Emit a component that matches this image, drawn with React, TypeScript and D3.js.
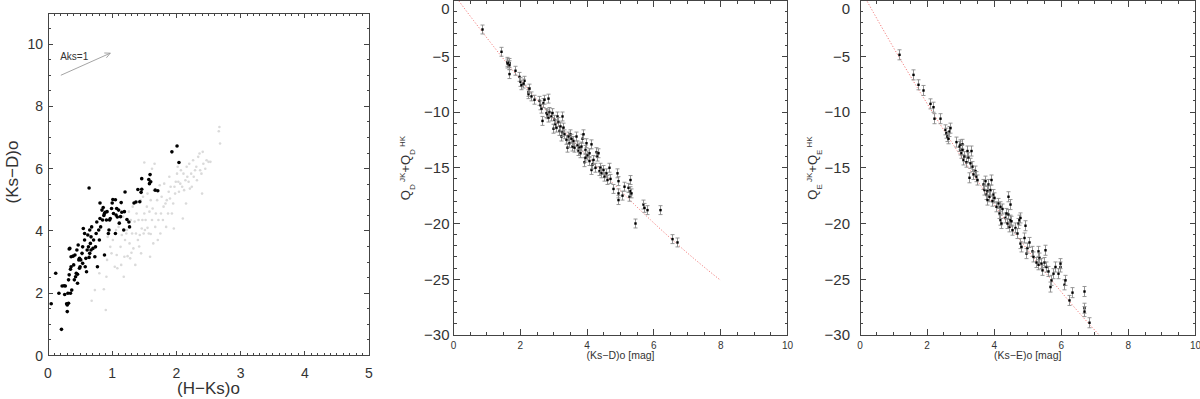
import React from 'react';
import * as d3 from 'd3';

// ---------- data ----------
const colorBlack: [number, number][] = [
  [0.05,1.66],[0.12,2.64],[0.17,2.0],[0.21,0.84],[0.22,2.23],[0.25,2.24],[0.26,1.96],[0.27,2.23],[0.29,1.66],[0.3,1.62],
  [0.3,1.41],[0.31,2.0],[0.32,1.68],[0.32,2.43],[0.33,2.59],[0.33,3.42],[0.34,3.44],[0.35,2.77],[0.35,2.0],[0.36,3.17],
  [0.36,2.85],[0.37,2.1],[0.39,3.19],[0.4,2.91],[0.41,2.43],[0.42,3.23],[0.43,2.53],[0.44,2.64],[0.45,3.39],[0.46,2.61],
  [0.46,2.32],[0.47,3.55],[0.48,3.07],[0.49,2.8],[0.49,3.12],[0.5,2.85],[0.51,3.07],[0.53,3.28],[0.54,2.96],[0.54,3.49],
  [0.55,4.08],[0.57,3.71],[0.57,3.92],[0.58,2.85],[0.59,3.12],[0.6,2.69],[0.61,3.39],[0.62,3.87],[0.63,3.49],[0.64,5.38],
  [0.64,3.15],[0.65,4.03],[0.65,3.28],[0.66,3.6],[0.67,3.81],[0.67,3.39],[0.68,4.13],[0.7,3.44],[0.71,3.71],[0.73,3.17],
  [0.74,3.49],[0.75,3.92],[0.76,4.29],[0.77,2.85],[0.79,4.03],[0.8,3.71],[0.81,4.4],[0.81,4.9],[0.82,4.13],[0.84,4.67],
  [0.85,4.35],[0.86,4.75],[0.87,4.5],[0.88,4.56],[0.88,3.23],[0.89,4.6],[0.91,4.35],[0.92,4.62],[0.94,3.92],[0.95,4.03],
  [0.96,4.35],[0.97,4.4],[0.99,4.72],[1.0,4.9],[1.01,5.01],[1.02,4.56],[1.05,5.0],[1.05,3.92],[1.06,4.51],[1.07,4.72],
  [1.08,4.45],[1.1,4.67],[1.11,4.25],[1.13,4.46],[1.14,4.91],[1.15,4.6],[1.18,4.03],[1.19,4.62],[1.2,5.25],[1.23,4.37],
  [1.26,4.29],[1.27,4.13],[1.34,4.9],[1.37,4.93],[1.4,5.33],[1.43,4.94],[1.45,5.24],[1.46,5.68],[1.46,5.34],[1.57,5.65],
  [1.58,5.52],[1.59,5.81],[1.6,5.58],[1.67,5.31],[1.71,5.29],[1.93,6.54],[2.01,6.73],[2.04,6.2],
];

const colorGray: [number, number][] = [
  [0.68,1.76],[0.73,2.1],[0.8,2.64],[0.87,2.13],[0.9,1.46],[0.91,2.53],[0.92,3.07],[0.93,3.81],[0.97,3.49],[0.99,3.28],
  [1.01,3.71],[1.04,2.85],[1.06,4.03],[1.07,3.23],[1.08,2.8],[1.1,4.13],[1.13,3.49],[1.14,2.91],[1.15,3.87],[1.17,4.46],
  [1.18,2.53],[1.19,3.17],[1.2,3.71],[1.22,3.92],[1.23,4.03],[1.24,3.19],[1.26,4.62],[1.27,3.6],[1.28,3.12],[1.29,4.35],
  [1.31,3.92],[1.32,4.78],[1.33,3.44],[1.36,2.91],[1.37,3.92],[1.38,4.56],[1.4,3.71],[1.41,4.35],[1.43,3.87],[1.44,4.99],
  [1.45,3.28],[1.46,4.08],[1.47,4.35],[1.48,5.1],[1.49,3.92],[1.5,4.56],[1.51,4.03],[1.52,4.35],[1.54,4.78],[1.55,5.2],
  [1.57,3.92],[1.58,4.62],[1.59,3.17],[1.6,4.99],[1.62,4.35],[1.63,4.72],[1.64,3.6],[1.65,5.31],[1.67,4.13],[1.68,4.56],
  [1.7,4.99],[1.71,3.71],[1.72,4.35],[1.74,5.47],[1.75,3.92],[1.76,4.56],[1.77,5.1],[1.79,4.35],[1.8,4.78],[1.81,5.52],
  [1.83,4.88],[1.84,4.13],[1.85,4.99],[1.87,4.56],[1.88,5.26],[1.89,5.74],[1.9,5.04],[1.91,5.42],[1.93,4.56],[1.95,4.88],
  [1.96,4.08],[1.97,5.42],[1.98,5.2],[1.99,5.58],[2.01,5.84],[2.02,6.06],[2.03,5.58],[2.04,5.26],[2.06,5.52],[2.07,5.95],
  [2.09,5.42],[2.1,4.4],[2.11,5.84],[2.12,5.31],[2.14,5.63],[2.15,4.88],[2.16,6.06],[2.17,5.74],[2.19,5.58],[2.2,6.16],
  [2.21,5.36],[2.23,5.84],[2.24,5.42],[2.26,6.27],[2.27,5.74],[2.29,5.95],[2.31,6.06],[2.32,5.63],[2.34,6.38],[2.36,6.49],
  [2.37,5.95],[2.39,5.84],[2.4,5.2],[2.41,6.54],[2.42,6.16],[2.45,6.0],[2.47,6.27],[2.5,6.22],[2.53,6.22],[2.66,7.2],
  [2.67,7.34],[2.68,6.81],[1.66,6.16],[1.62,6.0],[1.5,6.2],[1.35,4.3],[1.55,4.1],[1.42,3.5],[1.6,3.9],[1.3,3.3],
];

const qD: [number, number][] = [
  [0.85,-2.6],[1.42,-4.6],[1.6,-5.5],[1.61,-5.65],[1.65,-5.6],[1.67,-5.8],[1.65,-6.6],[1.85,-6.3],[1.95,-6.85],[2.0,-7.3],
  [2.01,-7.6],[2.11,-7.2],[2.07,-7.45],[2.23,-8.2],[2.24,-8.4],[2.27,-7.9],[2.31,-8.6],[2.41,-8.9],[2.57,-9.0],[2.59,-9.4],
  [2.62,-9.7],[2.65,-10.8],[2.67,-9.2],[2.71,-8.9],[2.77,-10.1],[2.81,-10.2],[2.82,-8.8],[2.84,-10.5],[2.87,-10.0],[2.91,-10.4],
  [2.95,-10.1],[2.99,-11.5],[3.01,-10.7],[3.04,-11.1],[3.07,-11.4],[3.11,-10.4],[3.14,-10.9],[3.17,-11.7],[3.19,-11.3],[3.22,-12.2],
  [3.24,-10.4],[3.26,-11.8],[3.29,-11.4],[3.32,-12.0],[3.37,-12.5],[3.39,-13.2],[3.42,-12.2],[3.46,-12.8],[3.49,-12.0],[3.52,-12.4],
  [3.56,-13.1],[3.59,-12.6],[3.62,-13.2],[3.66,-12.2],[3.69,-13.0],[3.72,-13.5],[3.75,-13.2],[3.79,-13.7],[3.83,-13.1],[3.86,-12.4],
  [3.88,-12.0],[3.91,-14.5],[3.93,-14.1],[3.95,-13.4],[3.97,-12.8],[4.01,-13.9],[4.05,-13.7],[4.07,-14.4],[4.11,-15.2],[4.12,-12.9],
  [4.15,-14.7],[4.19,-14.3],[4.23,-15.0],[4.27,-13.6],[4.29,-14.0],[4.32,-13.7],[4.36,-15.3],[4.39,-15.0],[4.43,-15.5],[4.47,-15.2],
  [4.51,-15.8],[4.56,-15.5],[4.61,-16.1],[4.65,-15.0],[4.69,-16.0],[4.77,-16.9],[4.91,-15.5],[4.93,-16.2],[4.94,-17.3],[4.94,-17.9],
  [5.04,-17.5],[5.11,-16.7],[5.23,-16.8],[5.25,-17.6],[5.27,-16.1],[5.29,-17.1],[5.32,-17.3],[5.42,-20.0],[5.67,-18.3],[5.69,-18.6],
  [5.79,-18.8],[6.18,-18.8],[6.55,-21.4],[6.7,-21.7],
];

const qE: [number, number][] = [
  [1.16,-4.87],[1.59,-6.67],[1.72,-7.56],[1.89,-8.07],[2.09,-9.27],[2.19,-9.57],[2.21,-10.6],[2.39,-10.6],[2.52,-11.6],[2.56,-11.9],
  [2.59,-12.2],[2.62,-12.4],[2.64,-11.75],[2.67,-11.45],[2.87,-12.7],[2.94,-13.1],[2.97,-13.4],[2.99,-12.95],[3.0,-13.7],[3.03,-12.9],
  [3.05,-13.4],[3.08,-14.3],[3.11,-14.0],[3.15,-14.5],[3.18,-13.5],[3.21,-14.1],[3.25,-15.9],[3.28,-14.6],[3.31,-13.5],[3.33,-14.9],
  [3.38,-15.6],[3.43,-15.3],[3.46,-15.8],[3.5,-16.1],[3.66,-16.5],[3.7,-17.0],[3.73,-16.2],[3.76,-17.4],[3.78,-17.1],[3.8,-17.9],
  [3.83,-16.5],[3.85,-17.6],[3.88,-17.0],[3.91,-16.1],[3.93,-18.0],[3.96,-17.4],[4.0,-17.7],[4.06,-18.5],[4.1,-18.2],[4.13,-19.1],
  [4.16,-19.7],[4.18,-18.5],[4.21,-20.0],[4.23,-18.7],[4.33,-19.5],[4.36,-19.1],[4.38,-20.0],[4.4,-19.2],[4.42,-17.6],[4.44,-20.3],
  [4.46,-19.7],[4.48,-18.3],[4.5,-19.8],[4.53,-20.6],[4.63,-20.4],[4.68,-20.9],[4.7,-20.0],[4.73,-19.7],[4.76,-19.5],[4.78,-21.8],
  [4.81,-22.1],[4.9,-21.3],[4.93,-20.2],[4.94,-22.7],[4.98,-22.2],[5.03,-21.7],[5.12,-22.5],[5.17,-23.0],[5.25,-23.5],[5.3,-22.5],
  [5.32,-23.7],[5.35,-23.1],[5.39,-23.6],[5.42,-24.2],[5.47,-23.5],[5.52,-22.4],[5.55,-23.9],[5.59,-24.3],[5.65,-25.7],[5.69,-25.1],
  [5.75,-24.5],[5.82,-23.9],[5.89,-24.5],[5.95,-23.9],[5.97,-23.6],[6.09,-25.5],[6.1,-25.1],[6.23,-26.9],[6.32,-26.2],[6.67,-26.1],
  [6.67,-27.6],[6.69,-27.9],[6.82,-28.9],
];

const errD = 0.4;
const errE = 0.45;
// fitted relations: [c0, c1, c2] for y = c0 + c1*x + c2*x^2, drawn for x in fitRange
const fitD = [0.61, -4.07, 0.107];
const fitE = [1.09, -5.48, 0.157];
const fitRange = [0, 8];

// reddening vector Aks=1 in (H-Ks, Ks-D)
const arrowFrom = [0.2, 9.0];
const arrowTo = [0.97, 9.71];

const leftXTicks = [0, 1, 2, 3, 4, 5];
const leftYTicks = [0, 2, 4, 6, 8, 10];
const qXTicks = [0, 2, 4, 6, 8, 10];
const qYTicks = [0, -5, -10, -15, -20, -25, -30];

// ---------- styles ----------
const FONT = '"Liberation Sans", Arial, sans-serif';
const AX = '#444';
const TX = '#333';
const minus = (v: number) => String(v).replace('-', '\u2212');

function Frame({ x, y, xMajor, xMinorStep, yMajor, yMinorStep, maj, min, clipId }: any) {
  const [xa, xb] = x.range();
  const [ya, yb] = y.range();
  const [dx0, dx1] = x.domain();
  const [dy0, dy1] = y.domain();
  const xm = d3.range(dx0, dx1 + 1e-9, xMinorStep);
  const ym = d3.range(dy0, dy1 + 1e-9, yMinorStep);
  const segs: any[] = [];
  xm.forEach((v: number, i: number) => {
    const L = xMajor.some((m: number) => Math.abs(m - v) < 1e-6) ? maj : min;
    const px = x(v);
    segs.push(<line key={'xb' + i} x1={px} x2={px} y1={ya} y2={ya - L} />);
    segs.push(<line key={'xt' + i} x1={px} x2={px} y1={yb} y2={yb + L} />);
  });
  ym.forEach((v: number, i: number) => {
    const L = yMajor.some((m: number) => Math.abs(m - v) < 1e-6) ? maj : min;
    const py = y(v);
    segs.push(<line key={'yl' + i} x1={xa} x2={xa + L} y1={py} y2={py} />);
    segs.push(<line key={'yr' + i} x1={xb} x2={xb - L} y1={py} y2={py} />);
  });
  return (
    <g stroke={AX} strokeWidth={1} fill="none" shapeRendering="crispEdges">
      <rect x={xa} y={yb} width={xb - xa} height={ya - yb} />
      {segs}
      {clipId && (
        <clipPath id={clipId}>
          <rect x={xa} y={yb} width={xb - xa} height={ya - yb} />
        </clipPath>
      )}
    </g>
  );
}

function QPanel({ x, y, data, err, fit, sub, xTitle, titleX, yLabelGap, clipId }: any) {
  const [ya] = y.range();
  const xs = d3.range(fitRange[0], fitRange[1] + 1e-9, 0.05);
  const line = d3.line<number>().x((v) => x(v)).y((v) => y(fit[0] + fit[1] * v + fit[2] * v * v));
  return (
    <g>
      <Frame x={x} y={y} xMajor={qXTicks} xMinorStep={0.5} yMajor={qYTicks} yMinorStep={1} maj={6} min={3} clipId={clipId} />
      <path d={line(xs) || ''} stroke="#f27b7b" strokeWidth={1} strokeDasharray="1.2,1.8" fill="none" clipPath={`url(#${clipId})`} />
      <g>
        {data.map(([a, b]: [number, number], i: number) => {
          const px = Math.round(x(a)) + 0.5;
          const y1 = y(b - err), y2 = y(b + err);
          return (
            <g key={i}>
              <g stroke="#8a8a8a" strokeWidth={0.9}>
                <line x1={px} x2={px} y1={y1} y2={y2} />
                <line x1={px - 2} x2={px + 2} y1={y1} y2={y1} />
                <line x1={px - 2} x2={px + 2} y1={y2} y2={y2} />
              </g>
              <rect x={px - 1.2} y={y(b) - 1.2} width={2.4} height={2.4} fill="#000" />
            </g>
          );
        })}
      </g>
      <g fontFamily={FONT} fill={TX}>
        {qXTicks.map((t) => (
          <text key={'xt' + t} x={x(t)} y={ya + 13.5} fontSize={10} textAnchor="middle">{t}</text>
        ))}
        {qYTicks.map((t) => (
          <text key={'yt' + t} x={x(0) - yLabelGap} y={Math.max(y(t), 8.4)} dy="0.36em" fontSize={15} textAnchor="end">{minus(t)}</text>
        ))}
        <text x={(x.range()[0] + x.range()[1]) / 2} y={ya + 24} fontSize={10.5} textAnchor="middle">{xTitle}</text>
        <text transform={`translate(${titleX},168) rotate(-90)`} fontSize={13} textAnchor="middle">
          Q<tspan fontSize={8} dy={5}>{sub}</tspan>
          <tspan fontSize={8} dy={-10}> JK</tspan>
          <tspan fontSize={13} dy={5}>+Q</tspan>
          <tspan fontSize={8} dy={5}>{sub}</tspan>
          <tspan fontSize={8} dy={-10}> HK</tspan>
        </text>
      </g>
    </g>
  );
}

export default function App() {
  const lx = d3.scaleLinear().domain([0, 5]).range([48, 369]);
  const ly = d3.scaleLinear().domain([0, 11]).range([355.5, 13]);
  const mx = d3.scaleLinear().domain([0, 10]).range([453.5, 787.5]);
  const my = d3.scaleLinear().domain([-30, 0]).range([335, 0.5]);
  const rx = d3.scaleLinear().domain([0, 10]).range([860, 1195.5]);
  const ry = d3.scaleLinear().domain([-30, 0]).range([335, 0.5]);

  const ang = Math.atan2(ly(arrowTo[1]) - ly(arrowFrom[1]), lx(arrowTo[0]) - lx(arrowFrom[0]));
  const ax = lx(arrowTo[0]), ay = ly(arrowTo[1]);
  const hl = 6;
  const h1 = [ax - hl * Math.cos(ang - 0.45), ay - hl * Math.sin(ang - 0.45)];
  const h2 = [ax - hl * Math.cos(ang + 0.45), ay - hl * Math.sin(ang + 0.45)];

  return (
    <svg width={1200} height={399} style={{ position: 'absolute', left: 0, top: 0, background: '#fff' }}>
      <rect x={0} y={0} width={1200} height={399} fill="#fff" />
      <g>
        <Frame x={lx} y={ly} xMajor={leftXTicks} xMinorStep={0.1} yMajor={leftYTicks} yMinorStep={0.5} maj={5} min={2.5} />
        {colorGray.map(([a, b], i) => (
          <circle key={'g' + i} cx={lx(a)} cy={ly(b)} r={1.3} fill="#dadada" />
        ))}
        {colorBlack.map(([a, b], i) => (
          <circle key={'b' + i} cx={lx(a)} cy={ly(b)} r={1.8} fill="#000" />
        ))}
        <g stroke="#9a9a9a" strokeWidth={0.9} fill="none">
          <line x1={lx(arrowFrom[0])} y1={ly(arrowFrom[1])} x2={ax} y2={ay} />
          <polyline points={`${h1[0]},${h1[1]} ${ax},${ay} ${h2[0]},${h2[1]}`} />
        </g>
        <g fontFamily={FONT} fill={TX}>
          <text x={lx(0.19)} y={ly(9.49)} fontSize={10}>Aks=1</text>
          {leftXTicks.map((t) => (
            <text key={'lx' + t} x={lx(t)} y={377.5} fontSize={14} textAnchor="middle">{t}</text>
          ))}
          {leftYTicks.map((t) => (
            <text key={'ly' + t} x={43} y={ly(t)} dy="0.36em" fontSize={14} textAnchor="end">{t}</text>
          ))}
          <text x={208.5} y={394} fontSize={17} textAnchor="middle">(H{'\u2212'}Ks)o</text>
          <text transform="translate(18,172) rotate(-90)" fontSize={17} textAnchor="middle">(Ks{'\u2212'}D)o</text>
        </g>
      </g>
      <QPanel x={mx} y={my} data={qD} err={errD} fit={fitD} sub="D" xTitle={'(Ks\u2212D)o [mag]'} titleX={409.5} yLabelGap={4} clipId="clipD" />
      <QPanel x={rx} y={ry} data={qE} err={errE} fit={fitE} sub="E" xTitle={'(Ks\u2212E)o [mag]'} titleX={817} yLabelGap={10} clipId="clipE" />
    </svg>
  );
}
